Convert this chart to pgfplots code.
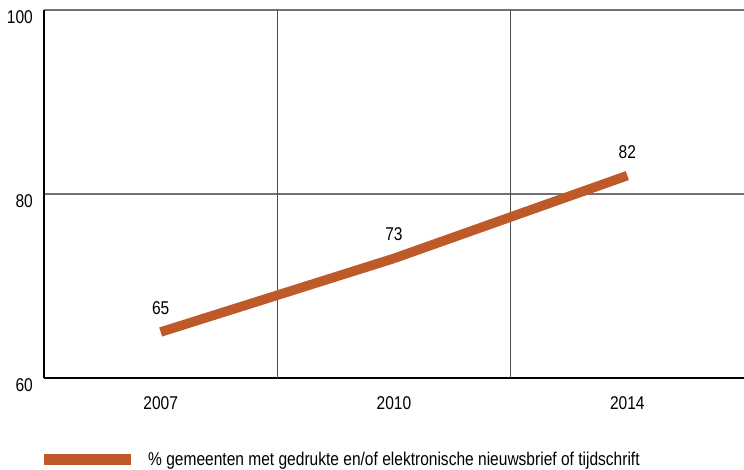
\documentclass[border=0pt]{standalone}
\usepackage{pgfplots}
\pgfplotsset{compat=1.18}
\usepackage{fontspec}
\setmainfont{Liberation Sans}[FakeStretch=0.84]
\definecolor{lijn}{RGB}{190,90,42}
\pgfkeys{/pgf/number format/assume math mode=true}
\begin{document}
\fontsize{18.5bp}{21bp}\selectfont
\begin{tikzpicture}
\path[use as bounding box] (-44bp,-92bp) rectangle (700bp,378bp);
\begin{axis}[
  at={(0,0)}, anchor=south west,
  scale only axis, width=700bp, height=368bp,
  xmin=-0.5, xmax=2.5, ymin=60, ymax=100,
  xtick={0,1,2}, xticklabels={2007,2010,2014},
  ytick={60,80,100},
  extra x ticks={0.5,1.5}, extra x tick labels={},
  extra x tick style={grid=major, major grid style={black!70, line width=1.2bp}},
  ymajorgrids, major grid style={black!55, line width=1.3bp},
  axis x line=bottom, axis y line=left,
  axis line style={-, black, line width=1.5bp},
  major tick length=0pt,
  tick label style={font=\fontsize{18.5bp}{21bp}\selectfont},
  yticklabel style={anchor=east, inner sep=0pt, xshift=-11bp, yshift=-7.5bp},
  xticklabel style={anchor=north, inner sep=0pt, yshift=-18bp},
  nodes near coords,
  nodes near coords style={anchor=south, inner sep=0pt, yshift=12.5bp, font=\fontsize{18.5bp}{21bp}\selectfont, black},
  legend style={draw=none, fill=none, inner sep=0pt, at={(0,-0.2228)}, anchor=west, xshift=-6bp,
    font=\fontsize{18.5bp}{21bp}\selectfont, legend cell align=left,
    /tikz/every odd column/.append style={column sep=10bp}},
  legend image code/.code={\draw[#1, line width=11bp] (0bp,0bp) -- (87bp,0bp);},
]
\addplot[color=lijn, line width=9.5bp, mark=none] coordinates {(0,65) (1,73) (2,82)};
\addlegendentry{\% gemeenten met gedrukte en/of elektronische nieuwsbrief of tijdschrift}
\end{axis}
\end{tikzpicture}
\end{document}
